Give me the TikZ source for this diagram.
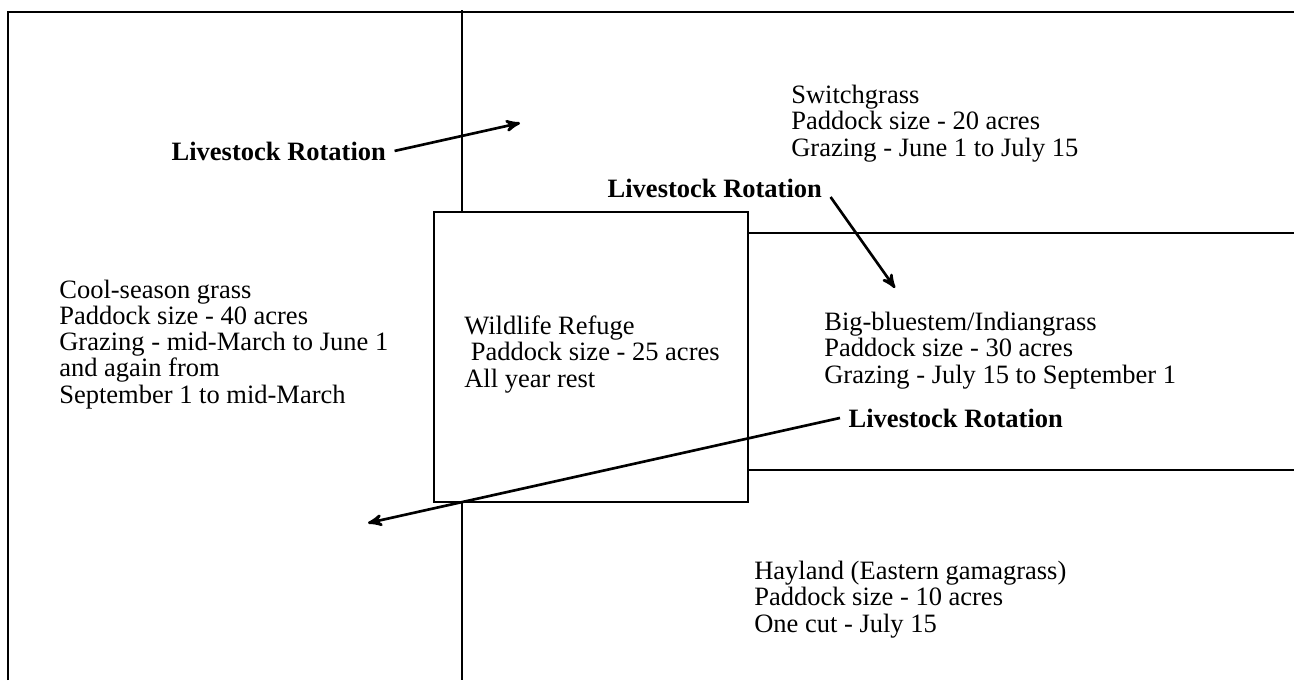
\documentclass[tikz,border=0pt]{standalone}
\usepackage{fontspec}
\setmainfont{Liberation Serif}
\usetikzlibrary{arrows}
\tikzstyle{txt} = [anchor=base west, inner sep=0pt, align=left,
    font=\fontsize{12}{11.8}\selectfont]
\tikzstyle{rot} = [anchor=base west, font=\fontsize{12}{11.8}\selectfont\bfseries]

\begin{document}
\begin{tikzpicture}[x=0.015915cm,y=-0.015915cm,line width=1.2pt,>=stealth']
  \useasboundingbox (0,0) rectangle (1294,680);

  % paddock lines
  \draw (8,680) -- (8,12) -- (1294,12);
  \draw (462,10) -- (462,212);
  \draw (462,503) -- (462,680);
  \draw (434,212) rectangle (748,502);
  \draw (748,233) -- (1294,233);
  \draw (748,470) -- (1294,470);

  % paddocks (base = last line)
  \node[txt] (sw) at (790,156) {Switchgrass\\Paddock size - 20 acres\\Grazing - June 1 to July 15};
  \node[txt] (cs) at (58,403) {Cool-season grass\\Paddock size - 40 acres\\Grazing - mid-March to June 1\\and again from\\September 1 to mid-March};
  \node[txt] (wr) at (463,387) {Wildlife Refuge\\\ Paddock size - 25 acres\\All year rest};
  \node[txt] (bb) at (823,383) {Big-bluestem/Indiangrass\\Paddock size - 30 acres\\Grazing - July 15 to September 1};
  \node[txt] (hl) at (753,632) {Hayland (Eastern gamagrass)\\Paddock size - 10 acres\\One cut - July 15};

  % rotation
  \node[rot] (r1) at (163,160) {Livestock Rotation};
  \node[rot] (r2) at (599,197) {Livestock Rotation};
  \node[rot] (r3) at (840,427) {Livestock Rotation};
  \coordinate (t1) at (520,123);
  \coordinate (t2) at (895,288);
  \coordinate (t3) at (368,523);

  \draw[->] (r1.east) -- (t1);
  \draw[->] (r2.base east) -- (t2);
  \draw[->] (r3.west) -- (t3);
\end{tikzpicture}
\end{document}
